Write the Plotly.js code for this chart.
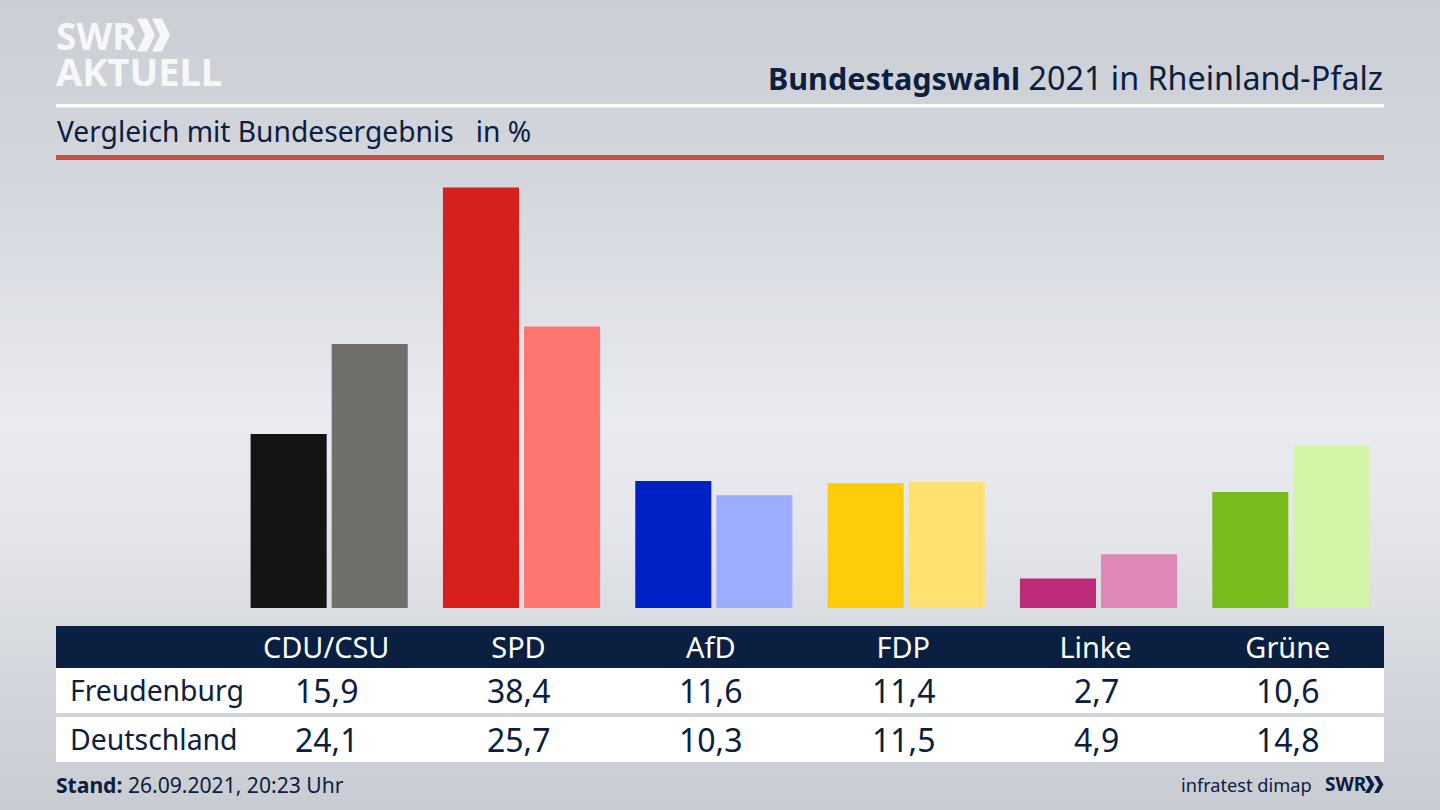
<!DOCTYPE html>
<html><head><meta charset="utf-8">
<script src="https://cdn.plot.ly/plotly-3.0.1.min.js"></script>
<style>
html,body{margin:0;padding:0;width:1440px;height:810px;overflow:hidden;
background:linear-gradient(180deg,#cbced5 0%,#d3d6dd 22%,#e9ebf0 52%,#e4e6eb 65%,#d2d5db 85%,#c9ccd3 100%);}
#c{width:1440px;height:810px}
</style></head><body><div id="c"></div>
<script>
const parties=["CDU/CSU","SPD","AfD","FDP","Linke","Grüne"];
const freudenburg=[15.9,38.4,11.6,11.4,2.7,10.6];
const deutschland=[24.1,25.7,10.3,11.5,4.9,14.8];
const coloursA=["#141414","#d71f1d","#0021c6","#ffcc0a","#bd2c78","#78bb1c"];
const coloursB=["#716f6c","#ff7570","#9dacff","#ffe070","#df88b7","#d2f5a8"];
const seriesNames=["Freudenburg","Deutschland"];

const W=1440,H=810,L=233,R=1387,T=170,B=608;
const px=x=>(x-L)/(R-L), py=y=>(B-y)/(B-T);
const navy="#0b2040";
const fontN="'Noto Sans', sans-serif";
function rect(x0,y0,x1,y1,c){return{type:"rect",xref:"paper",yref:"paper",x0:px(x0),x1:px(x1),y0:py(y0),y1:py(y1),fillcolor:c,line:{width:0},layer:"below"};}
function poly(pts,c){return{type:"path",xref:"paper",yref:"paper",path:"M"+pts.map(p=>px(p[0])+","+py(p[1])).join("L")+"Z",fillcolor:c,line:{width:0},layer:"below"};}
function chev(x,y0,y1,w,t,c){const m=(y0+y1)/2;return poly([[x,y0],[x+t,y0],[x+t+w,m],[x+t,y1],[x,y1],[x+w,m]],c);}
function txt(x,y,s,size,c,anchor,extra){return Object.assign({xref:"paper",yref:"paper",x:px(x),y:py(y),text:s,showarrow:false,xanchor:anchor||"left",yanchor:"middle",font:{family:fontN,size:size,color:c},align:anchor||"left",borderpad:0},extra||{});}
const fmt=v=>v.toFixed(1).replace(".",",");

const shapes=[
 rect(56,104,1384,107.5,"#ffffff"),
 rect(56,155,1384,160,"#c8503f"),
 rect(56,626,1384,668,navy),
 rect(56,668,1384,713,"#ffffff"),
 rect(56,717,1384,762,"#ffffff"),
 chev(137,18.5,51.5,8,10,"#f6f7f8"),chev(152,18.5,51.5,8,10,"#f6f7f8"),
 chev(1365,776,793,5,4.5,navy),chev(1374,776,793,5,4.5,navy)
];
const annotations=[
 txt(55,54,'<b><span style="font-size:37px">SWR</span><br><span style="font-size:38px">AKTUELL</span></b>',28,"#f6f7f8","left"),
 txt(1384,77,'<b><span style="font-size:30.5px">Bundestagswahl</span></b> 2021 in Rheinland-Pfalz',32.3,navy,"right"),
 txt(56,131.5,"Vergleich mit Bundesergebnis&nbsp;&nbsp; in %",28.2,navy,"left"),
 txt(69,690,seriesNames[0],28.3,navy,"left"),
 txt(69,738.5,seriesNames[1],28.4,navy,"left"),
 txt(55,784.5,"<b>Stand:</b> 26.09.2021, 20:23 Uhr",21.1,navy,"left"),
 txt(1312.5,784.5,"infratest dimap",18.2,navy,"right"),
 txt(1323.5,784,"<b>SWR</b>",19,navy,"left")
];
parties.forEach((p,i)=>{
 annotations.push({xref:"x",yref:"paper",x:p,y:py(690.5),xshift:-2.5,text:fmt(freudenburg[i]),showarrow:false,yanchor:"middle",font:{family:fontN,size:32,color:navy}});
 annotations.push({xref:"x",yref:"paper",x:p,y:py(739.5),xshift:-2.5,text:fmt(deutschland[i]),showarrow:false,yanchor:"middle",font:{family:fontN,size:32,color:navy}});
});
const traces=[
 {type:"bar",name:seriesNames[0],x:parties,y:freudenburg,marker:{color:coloursA,line:{width:0}},hoverinfo:"x+y"},
 {type:"bar",name:seriesNames[1],x:parties,y:deutschland,marker:{color:coloursB,line:{width:0}},hoverinfo:"x+y"}
];
const layout={
 width:W,height:H,paper_bgcolor:"rgba(0,0,0,0)",plot_bgcolor:"rgba(0,0,0,0)",
 margin:{l:L,r:W-R,t:T,b:H-B,pad:0},autosize:false,showlegend:false,
 barmode:"group",bargap:0.157,bargroupgap:0.0617,
 xaxis:{type:"category",categoryorder:"array",categoryarray:parties,range:[-0.5,5.5],showgrid:false,zeroline:false,showline:false,
   ticks:"outside",ticklen:14,tickwidth:1,tickcolor:"rgba(0,0,0,0)",ticklabelshift:-3,tickfont:{family:fontN,size:28.9,color:"#ffffff"},fixedrange:true},
 yaxis:{range:[0,40],visible:false,fixedrange:true},
 shapes,annotations
};
Plotly.newPlot("c",traces,layout,{displayModeBar:false});
</script></body></html>
